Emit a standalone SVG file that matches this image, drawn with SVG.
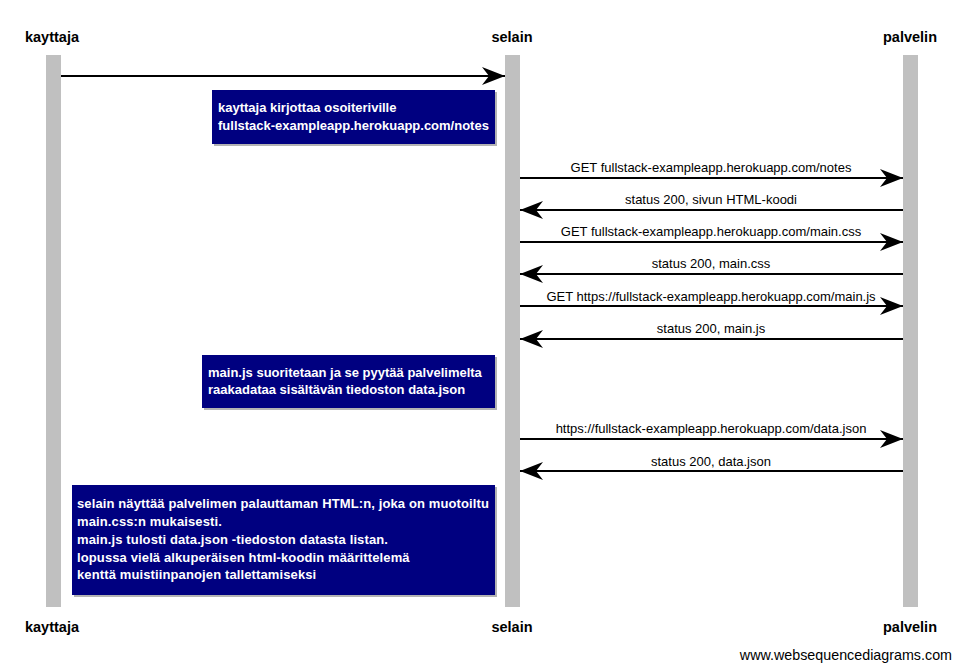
<svg xmlns="http://www.w3.org/2000/svg" width="961" height="670" viewBox="0 0 961 670">
<style>
.actor{font-family:"Liberation Sans",Arial,sans-serif;font-size:14.5px;font-weight:bold;fill:#000;text-anchor:middle}
.life{fill:#c0c0c0}
.msg{stroke:#000;stroke-width:2;fill:none;marker-end:url(#ah)}
.lbl{font-family:"Liberation Sans",Arial,sans-serif;font-size:13px;fill:#000;text-anchor:middle}
.note{fill:#000080}
.shadow{fill:#808080;opacity:0.6}
.nt{font-family:"Liberation Sans",Arial,sans-serif;font-size:13px;font-weight:bold;fill:#fff}
#note3 .nt{letter-spacing:0.12px}
.foot{font-family:"Liberation Sans",Arial,sans-serif;font-size:14.3px;fill:#000}
</style>
<defs>
<marker id="ah" markerUnits="userSpaceOnUse" markerWidth="30" markerHeight="24" viewBox="-24 -12 26 24" refX="0" refY="0" orient="auto">
<path d="M0,0 L-23,-9 L-16,0 L-23,9 Z" fill="#000"/>
</marker>
</defs>
<rect width="961" height="670" fill="#fff"/>
<g id="kayttaja">
<rect class="life" x="46" y="55" width="15" height="552"/>
<text class="actor" x="52" y="42">kayttaja</text>
<text class="actor" x="52" y="632">kayttaja</text>
</g>
<g id="selain">
<rect class="life" x="505" y="55" width="15" height="552"/>
<text class="actor" x="512" y="42">selain</text>
<text class="actor" x="512" y="632">selain</text>
</g>
<g id="palvelin">
<rect class="life" x="903" y="55" width="15" height="552"/>
<text class="actor" x="910" y="42">palvelin</text>
<text class="actor" x="910" y="632">palvelin</text>
</g>
<g id="connectors">
<line class="msg" x1="61" y1="76" x2="505" y2="76"/>
<line class="msg" x1="520" y1="178" x2="903" y2="178"/>
<text class="lbl" x="711" y="172">GET fullstack-exampleapp.herokuapp.com/notes</text>
<line class="msg" x1="903" y1="210" x2="520" y2="210"/>
<text class="lbl" x="711" y="204">status 200, sivun HTML-koodi</text>
<line class="msg" x1="520" y1="242" x2="903" y2="242"/>
<text class="lbl" x="711" y="236">GET fullstack-exampleapp.herokuapp.com/main.css</text>
<line class="msg" x1="903" y1="274" x2="520" y2="274"/>
<text class="lbl" x="711" y="268">status 200, main.css</text>
<line class="msg" x1="520" y1="306" x2="903" y2="306"/>
<text class="lbl" x="711" y="301">GET https://fullstack-exampleapp.herokuapp.com/main.js</text>
<line class="msg" x1="903" y1="339" x2="520" y2="339"/>
<text class="lbl" x="711" y="333">status 200, main.js</text>
<line class="msg" x1="520" y1="439" x2="903" y2="439"/>
<text class="lbl" x="711" y="433">https://fullstack-exampleapp.herokuapp.com/data.json</text>
<line class="msg" x1="903" y1="471" x2="520" y2="471"/>
<text class="lbl" x="711" y="466">status 200, data.json</text>
</g>
<g id="note1">
<rect class="shadow" x="214" y="92" width="283" height="54"/>
<rect class="note" x="212" y="90" width="283" height="54"/>
<text class="nt" x="218" y="112">kayttaja kirjottaa osoiteriville</text>
<text class="nt" x="218" y="130">fullstack-exampleapp.herokuapp.com/notes</text>
</g>
<g id="note2">
<rect class="shadow" x="204" y="357" width="293" height="53"/>
<rect class="note" x="202" y="355" width="293" height="53"/>
<text class="nt" x="208" y="377">main.js suoritetaan ja se pyytää palvelimelta</text>
<text class="nt" x="208" y="394">raakadataa sisältävän tiedoston data.json</text>
</g>
<g id="note3">
<rect class="shadow" x="74" y="487" width="423" height="110"/>
<rect class="note" x="72" y="485" width="423" height="110"/>
<text class="nt" x="77" y="508">selain näyttää palvelimen palauttaman HTML:n, joka on muotoiltu</text>
<text class="nt" x="77" y="526">main.css:n mukaisesti.</text>
<text class="nt" x="77" y="544">main.js tulosti data.json -tiedoston datasta listan.</text>
<text class="nt" x="77" y="562">lopussa vielä alkuperäisen html-koodin määrittelemä</text>
<text class="nt" x="77" y="579">kenttä muistiinpanojen tallettamiseksi</text>
</g>
<text class="foot" x="952" y="660" text-anchor="end">www.websequencediagrams.com</text>
</svg>
